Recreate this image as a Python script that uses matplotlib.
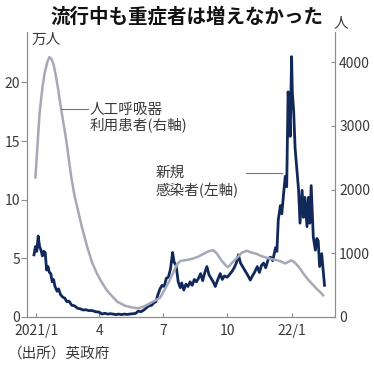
import pandas as pd
import matplotlib
matplotlib.use("Agg")
import matplotlib.pyplot as plt
from matplotlib.lines import Line2D

plt.rcParams['font.family'] = ['Noto Sans CJK JP', 'DejaVu Sans']

# 新規感染者 (万人, left axis)
case_dates = [
    "2020-12-29", "2020-12-31", "2021-01-02", "2021-01-04", "2021-01-06", "2021-01-08",
    "2021-01-10", "2021-01-12", "2021-01-14", "2021-01-16", "2021-01-18", "2021-01-20",
    "2021-01-22", "2021-01-24", "2021-01-26", "2021-01-28", "2021-01-31", "2021-02-02",
    "2021-02-05", "2021-02-08", "2021-02-11", "2021-02-14", "2021-02-17", "2021-02-21",
    "2021-02-25", "2021-03-01", "2021-03-05", "2021-03-09", "2021-03-13", "2021-03-17",
    "2021-03-22", "2021-03-27", "2021-04-01", "2021-04-05", "2021-04-09", "2021-04-13",
    "2021-04-17", "2021-04-21", "2021-04-25", "2021-04-29", "2021-05-03", "2021-05-07",
    "2021-05-11", "2021-05-15", "2021-05-19", "2021-05-23", "2021-05-27", "2021-05-31",
    "2021-06-04", "2021-06-08", "2021-06-11", "2021-06-15", "2021-06-18", "2021-06-21",
    "2021-06-24", "2021-06-27", "2021-06-30", "2021-07-03", "2021-07-06", "2021-07-09",
    "2021-07-12", "2021-07-15", "2021-07-17", "2021-07-20", "2021-07-23", "2021-07-26",
    "2021-07-28", "2021-07-31", "2021-08-03", "2021-08-06", "2021-08-09", "2021-08-12",
    "2021-08-15", "2021-08-18", "2021-08-21", "2021-08-24", "2021-08-27", "2021-08-30",
    "2021-09-02", "2021-09-05", "2021-09-08", "2021-09-11", "2021-09-14", "2021-09-17",
    "2021-09-21", "2021-09-24", "2021-09-27", "2021-10-01", "2021-10-04", "2021-10-08",
    "2021-10-11", "2021-10-14", "2021-10-17", "2021-10-20", "2021-10-23", "2021-10-26",
    "2021-10-30", "2021-11-03", "2021-11-06", "2021-11-09", "2021-11-13", "2021-11-16",
    "2021-11-19", "2021-11-22", "2021-11-25", "2021-11-29", "2021-12-02", "2021-12-05",
    "2021-12-09", "2021-12-11", "2021-12-13", "2021-12-16", "2021-12-18", "2021-12-21",
    "2021-12-23", "2021-12-25", "2021-12-27", "2021-12-29", "2021-12-30", "2022-01-01",
    "2022-01-02", "2022-01-04", "2022-01-06", "2022-01-09", "2022-01-11", "2022-01-13",
    "2022-01-16", "2022-01-18", "2022-01-20", "2022-01-23", "2022-01-25", "2022-01-27",
    "2022-01-29", "2022-02-01", "2022-02-04", "2022-02-06", "2022-02-08", "2022-02-10",
    "2022-02-13", "2022-02-17",
]
cases = [
    5.3, 6.0, 5.6, 6.9, 6.0, 5.7,
    5.2, 5.6, 5.5, 4.0, 4.3, 3.8,
    3.7, 3.0, 3.2, 2.6, 2.2, 2.4,
    1.9, 1.7, 1.6, 1.3, 1.35, 1.0,
    0.95, 0.75, 0.7, 0.6, 0.62, 0.55,
    0.55, 0.45, 0.42, 0.25, 0.32, 0.25,
    0.28, 0.25, 0.2, 0.25, 0.2, 0.25,
    0.22, 0.25, 0.28, 0.3, 0.5, 0.45,
    0.6, 0.8, 0.95, 1.0, 1.2, 1.3,
    1.9, 2.4, 2.7, 2.6, 3.3, 3.4,
    4.1, 5.5, 4.7, 4.4, 3.0, 2.5,
    2.9, 2.3, 2.8, 2.6, 3.0, 2.7,
    3.2, 3.0, 3.3, 3.7, 3.1, 3.8,
    4.3, 3.6, 3.3, 3.0, 2.6, 3.1,
    3.7, 3.2, 3.5, 3.4, 3.6, 3.9,
    4.2, 4.6, 5.3, 4.6, 4.3, 4.0,
    3.6, 3.15, 3.5, 3.8, 4.3, 3.8,
    4.4, 4.6, 4.2, 5.0, 5.1, 4.8,
    5.9, 5.6, 8.3, 9.5, 8.8, 10.8,
    12.0, 11.1, 19.2, 17.0, 15.4, 22.2,
    19.2, 17.5, 14.4, 12.3, 10.8, 8.0,
    10.8, 8.5, 10.2, 7.7, 10.2, 8.0,
    11.2, 6.8, 5.7, 6.7, 6.5, 4.3,
    5.4, 2.7,
]

# 人工呼吸器利用患者 (人, right axis)
vent_dates = [
    "2020-12-31", "2021-01-03", "2021-01-06", "2021-01-10", "2021-01-13", "2021-01-17",
    "2021-01-20", "2021-01-23", "2021-01-26", "2021-01-29", "2021-02-01", "2021-02-06",
    "2021-02-13", "2021-02-20", "2021-02-25", "2021-03-07", "2021-03-15", "2021-03-22",
    "2021-03-29", "2021-04-05", "2021-04-12", "2021-04-19", "2021-04-27", "2021-05-08",
    "2021-05-18", "2021-05-27", "2021-06-05", "2021-06-15", "2021-06-27", "2021-07-04",
    "2021-07-10", "2021-07-16", "2021-07-21", "2021-07-26", "2021-08-01", "2021-08-07",
    "2021-08-14", "2021-08-21", "2021-08-28", "2021-09-04", "2021-09-11", "2021-09-16",
    "2021-09-22", "2021-09-28", "2021-10-02", "2021-10-08", "2021-10-15", "2021-10-22",
    "2021-10-29", "2021-11-05", "2021-11-12", "2021-11-18", "2021-11-26", "2021-12-07",
    "2021-12-15", "2021-12-23", "2021-12-28", "2022-01-01", "2022-01-06", "2022-01-11",
    "2022-01-18", "2022-01-25", "2022-02-01", "2022-02-06", "2022-02-11", "2022-02-15",
]
vent = [
    2190, 2700, 3200, 3600, 3820, 4000,
    4080, 4050, 3960, 3800, 3610, 3250,
    2780, 2210, 1900, 1430, 1100, 855,
    680, 540, 420, 333, 240, 177,
    150, 136, 170, 230, 300, 437,
    560, 700, 820, 880, 890, 900,
    920, 950, 990, 1030, 1050, 1000,
    900, 820, 780, 850, 930, 1010,
    1040, 1010, 990, 960, 930, 900,
    880, 840, 870, 890, 850, 790,
    680, 581, 500, 440, 390, 340,
]

xtick_dates = ["2021-01-01", "2021-04-01", "2021-07-01", "2021-10-01", "2022-01-01"]
xtick_labels = ["2021/1", "4", "7", "10", "22/1"]

W, H = 374, 370
fig = plt.figure(figsize=(W / 100, H / 100), dpi=100)
ax = fig.add_axes([27 / W, 1 - 317 / H, (335 - 27) / W, (317 - 32) / H])
ax2 = ax.twinx()

navy = '#10295a'
gray = '#a6a8b8'
axis_gray = '#8c8c8c'

ax.plot(pd.to_datetime(case_dates), cases, color=navy, linewidth=2.0, solid_joinstyle='round')
ax2.plot(pd.to_datetime(vent_dates), vent, color=gray, linewidth=1.8, solid_joinstyle='round')

ax.set_xlim(pd.Timestamp("2020-12-19"), pd.Timestamp("2022-03-04"))
ax.set_ylim(0, 24.3)
ax2.set_ylim(0, 4474)

ax.set_yticks([0, 5, 10, 15, 20])
ax2.set_yticks([0, 1000, 2000, 3000, 4000])
ax.set_xticks(pd.to_datetime(xtick_dates))
ax.set_xticklabels(xtick_labels)

for a in (ax, ax2):
    a.spines['top'].set_visible(False)
    for s in ('left', 'right', 'bottom'):
        a.spines[s].set_color(axis_gray)
        a.spines[s].set_linewidth(0.8)

ax.tick_params(axis='y', direction='out', length=4, width=0.8, color=axis_gray,
               labelsize=10, labelcolor='#3a3a3a', pad=1)
ax2.tick_params(axis='y', direction='in', length=3, width=0.8, color=axis_gray,
                labelsize=10, labelcolor='#3a3a3a', pad=3)
ax.tick_params(axis='x', direction='in', length=3, width=0.8, color=axis_gray,
               labelsize=10, labelcolor='#3a3a3a', pad=5)


def fx(x):
    return x / W


def fy(y):
    return 1 - y / H


fig.text(0.5, fy(17), "流行中も重症者は増えなかった", ha='center', va='center',
         fontsize=14, fontweight='bold', color='#111111')
fig.text(fx(32), fy(40), "万人", ha='left', va='center', fontsize=10.5, color='#3a3a3a')
fig.text(fx(334), fy(23), "人", ha='left', va='center', fontsize=10.5, color='#3a3a3a')

# 注釈
fig.add_artist(Line2D([fx(61), fx(88)], [fy(109), fy(109)], color='#777777', linewidth=0.8))
fig.text(fx(90), fy(109.5), "人工呼吸器", ha='left', va='center', fontsize=10.5, color='#3a3a3a')
fig.text(fx(90), fy(124.5), "利用患者(右軸)", ha='left', va='center', fontsize=10.5, color='#3a3a3a')

fig.add_artist(Line2D([fx(246), fx(282)], [fy(173), fy(173)], color='#777777', linewidth=0.8))
fig.text(fx(156), fy(172.5), "新規", ha='left', va='center', fontsize=10.5, color='#3a3a3a')
fig.text(fx(156), fy(190), "感染者(左軸)", ha='left', va='center', fontsize=10.5, color='#3a3a3a')

fig.text(fx(8), fy(355), "（出所）英政府", ha='left', va='center', fontsize=10.5, color='#3a3a3a')

fig.savefig("out.png", dpi=100)
